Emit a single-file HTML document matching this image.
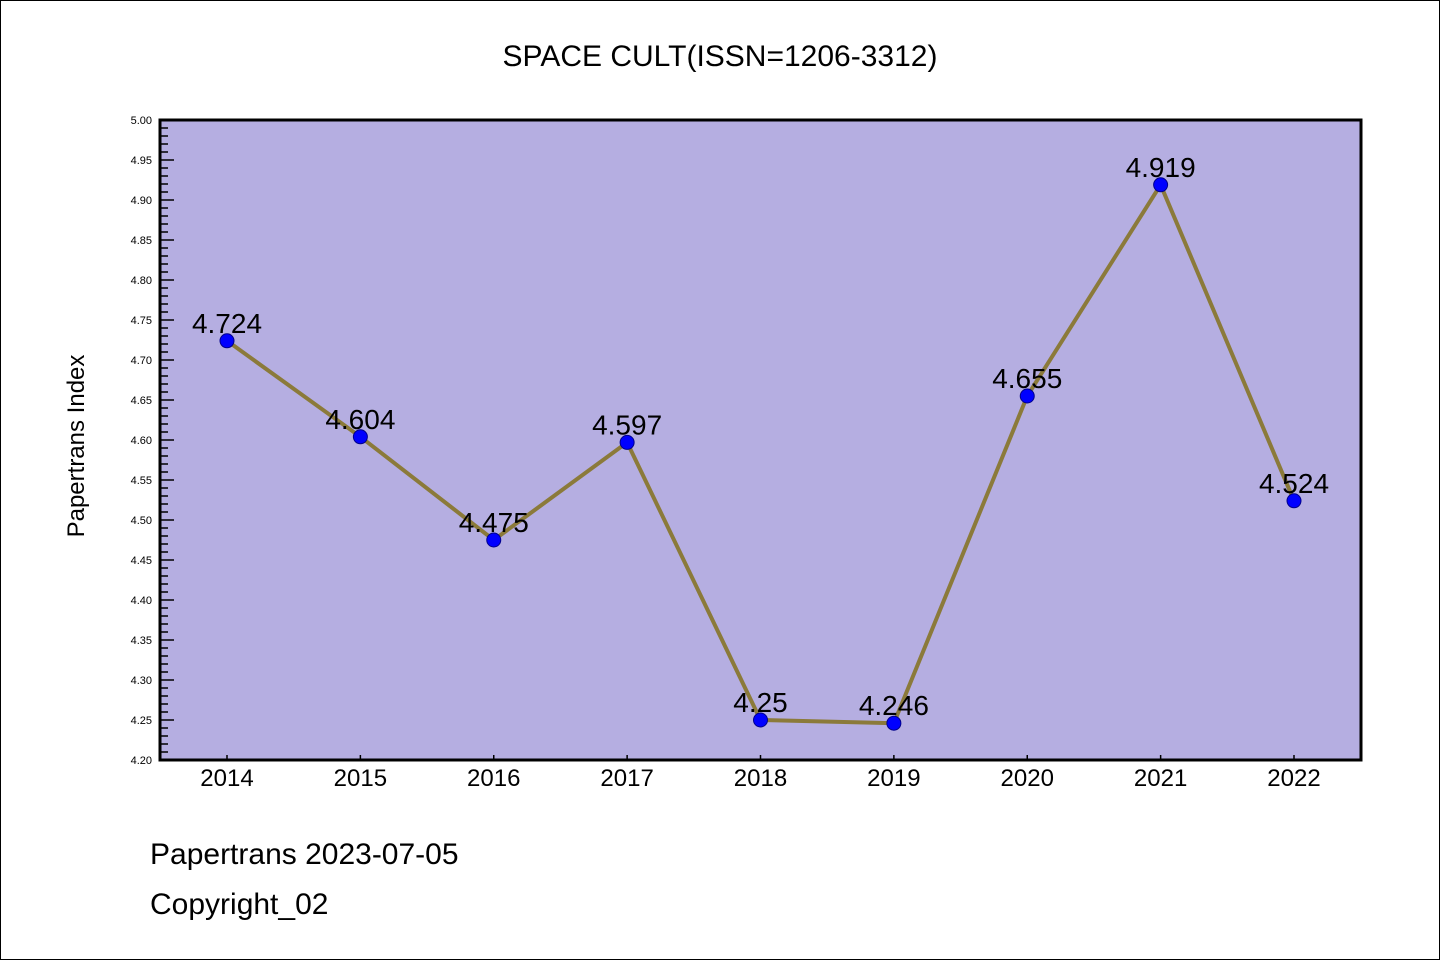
<!DOCTYPE html>
<html><head><meta charset="utf-8"><style>
body{margin:0;background:#fff}
svg text{font-family:"Liberation Sans","WenQuanYi Zen Hei",sans-serif}
</style></head><body>
<svg width="1440" height="960" xmlns="http://www.w3.org/2000/svg">
<rect x="0.5" y="0.5" width="1439" height="959" fill="#fff" stroke="#000"/>
<text x="720" y="66" text-anchor="middle" font-size="30" font-family="WenQuanYi Zen Hei, monospace">SPACE CULT(ISSN=1206-3312)</text>
<rect x="160" y="120" width="1201" height="640" fill="#b5aee1"/>
<g id="axes"></g>
<g id="marks"></g>
<rect x="160" y="120" width="1201" height="640" fill="none" stroke="#000" stroke-width="3"/>
<text transform="translate(84,446) rotate(-90)" text-anchor="middle" font-size="24" font-family="WenQuanYi Zen Hei, monospace">Papertrans Index</text>
<text x="150" y="864" font-size="30" font-family="WenQuanYi Zen Hei, monospace">Papertrans 2023-07-05</text>
<text x="150" y="914" font-size="30" font-family="WenQuanYi Zen Hei, monospace">Copyright_02</text>
</svg>
<script>
const years=["2014","2015","2016","2017","2018","2019","2020","2021","2022"];
const values=[4.724,4.604,4.475,4.597,4.25,4.246,4.655,4.919,4.524];
const labels=["4.724","4.604","4.475","4.597","4.25","4.246","4.655","4.919","4.524"];
const yMin=4.20,yMax=5.00;
const NS="http://www.w3.org/2000/svg";
const X0=160,X1=1361,Y0=760,Y1=120;
const xs=i=>227+i*(1294-227)/(years.length-1);
const ys=v=>Y0-(v-yMin)/(yMax-yMin)*(Y0-Y1);
function mk(t,a,p){const e=document.createElementNS(NS,t);for(const k in a)e.setAttribute(k,a[k]);p.appendChild(e);return e;}
const ax=document.getElementById('axes'),mg=document.getElementById('marks');
for(let k=0;k<=80;k++){const v=yMin+k*0.01,y=ys(v),maj=k%5===0;
 const l=mk('line',{x1:X0,x2:X0+(maj?14:8),y1:y,y2:y,stroke:'#000','stroke-width':1.5},ax);
 
 
 if(maj){const t=mk('text',{x:152,y:y+4,'text-anchor':'end','font-size':11},ax);t.textContent=v.toFixed(2);
 
 }}
years.forEach((yr,i)=>{const x=xs(i);
 const l=mk('line',{x1:x,x2:x,y1:Y0,y2:Y0-5,stroke:'#000','stroke-width':1.5},ax);
 
 
 const t=mk('text',{x:x,y:786,'text-anchor':'middle','font-size':24},ax);t.textContent=yr;
 
 });
const pl=mk('polyline',{points:values.map((v,i)=>xs(i)+','+ys(v)).join(' '),fill:'none',stroke:'#8b7a3a','stroke-width':4},mg);


values.forEach((v,i)=>{
 const c=mk('circle',{cx:xs(i),cy:ys(v),r:7,fill:'#0000ff',stroke:'#00008b','stroke-width':1},mg);
 
 
 const t=mk('text',{x:xs(i),y:ys(v)-8,'text-anchor':'middle','font-size':28,'font-family':'WenQuanYi Zen Hei, monospace'},mg);t.textContent=labels[i];
 
 });
</script>
</body></html>
